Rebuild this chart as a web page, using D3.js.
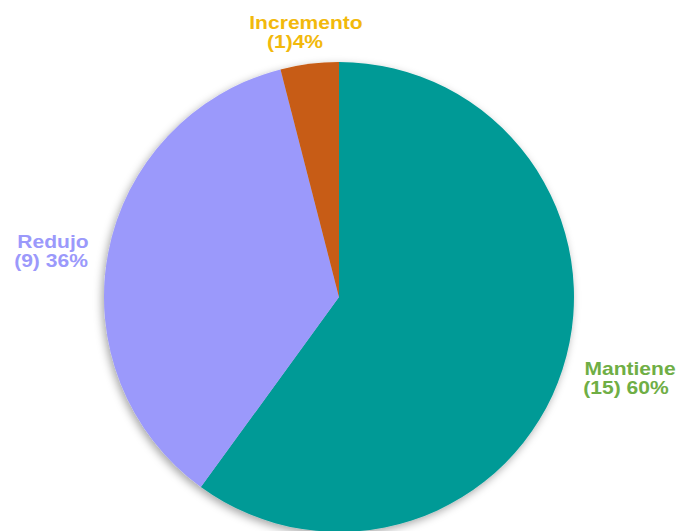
<!DOCTYPE html>
<html><head><meta charset="utf-8">
<script src="https://cdn.jsdelivr.net/npm/d3@7"></script>
<style>body{margin:0;background:#fff}svg{display:block}</style>
</head><body>
<script>
const categories = ["Mantiene", "Redujo", "Incremento"];
const counts = [15, 9, 1];
const percents = ["60%", "36%", "4%"];
const sliceColors = ["#009a96", "#9b99fb", "#c75b12"];
const labelColors = ["#6fae45", "#9b99fb", "#f2b90c"];

const W = 678, H = 531, cx = 339, cy = 297, R = 235;
const svg = d3.select("body").append("svg").attr("width", W).attr("height", H);
const defs = svg.append("defs");
const f = defs.append("filter").attr("id","sh").attr("x","-20%").attr("y","-20%").attr("width","140%").attr("height","140%");
f.append("feDropShadow").attr("dx",-2).attr("dy",3).attr("stdDeviation",4).attr("flood-color","#000").attr("flood-opacity",0.35);

const data = categories.map((c,i)=>({c, n:counts[i], p:percents[i], col:sliceColors[i], lc:labelColors[i]}));
const pie = d3.pie().sort(null).value(d=>d.n);
const arc = d3.arc().innerRadius(0).outerRadius(R);
const g = svg.append("g").attr("transform",`translate(${cx},${cy})`);
g.append("g").attr("filter","url(#sh)").selectAll("path").data(pie(data)).join("path")
  .attr("d", arc).attr("fill", d=>d.data.col);

// label placement (layout, kept in code)
const labelPos = {
  "Mantiene": {x:[630,626], y:375},
  "Redujo": {x:[53,51], y:248},
  "Incremento": {x:[306,295], y:29}
};
const sx = 1.17;
const lab = svg.append("g").style("font-family","'Liberation Sans', Arial, sans-serif")
  .style("font-weight","bold").style("font-size","18px").attr("text-anchor","middle");
data.forEach(d=>{
  const p = labelPos[d.c];
  const second = d.c==="Incremento" ? `(${d.n})${d.p}` : `(${d.n}) ${d.p}`;
  [d.c, second].forEach((s,k)=>{
    lab.append("text").attr("transform",`translate(${p.x[k]},${p.y + k*19}) scale(${sx},1)`)
      .attr("fill",d.lc).text(s);
  });
});
</script>
</body></html>
